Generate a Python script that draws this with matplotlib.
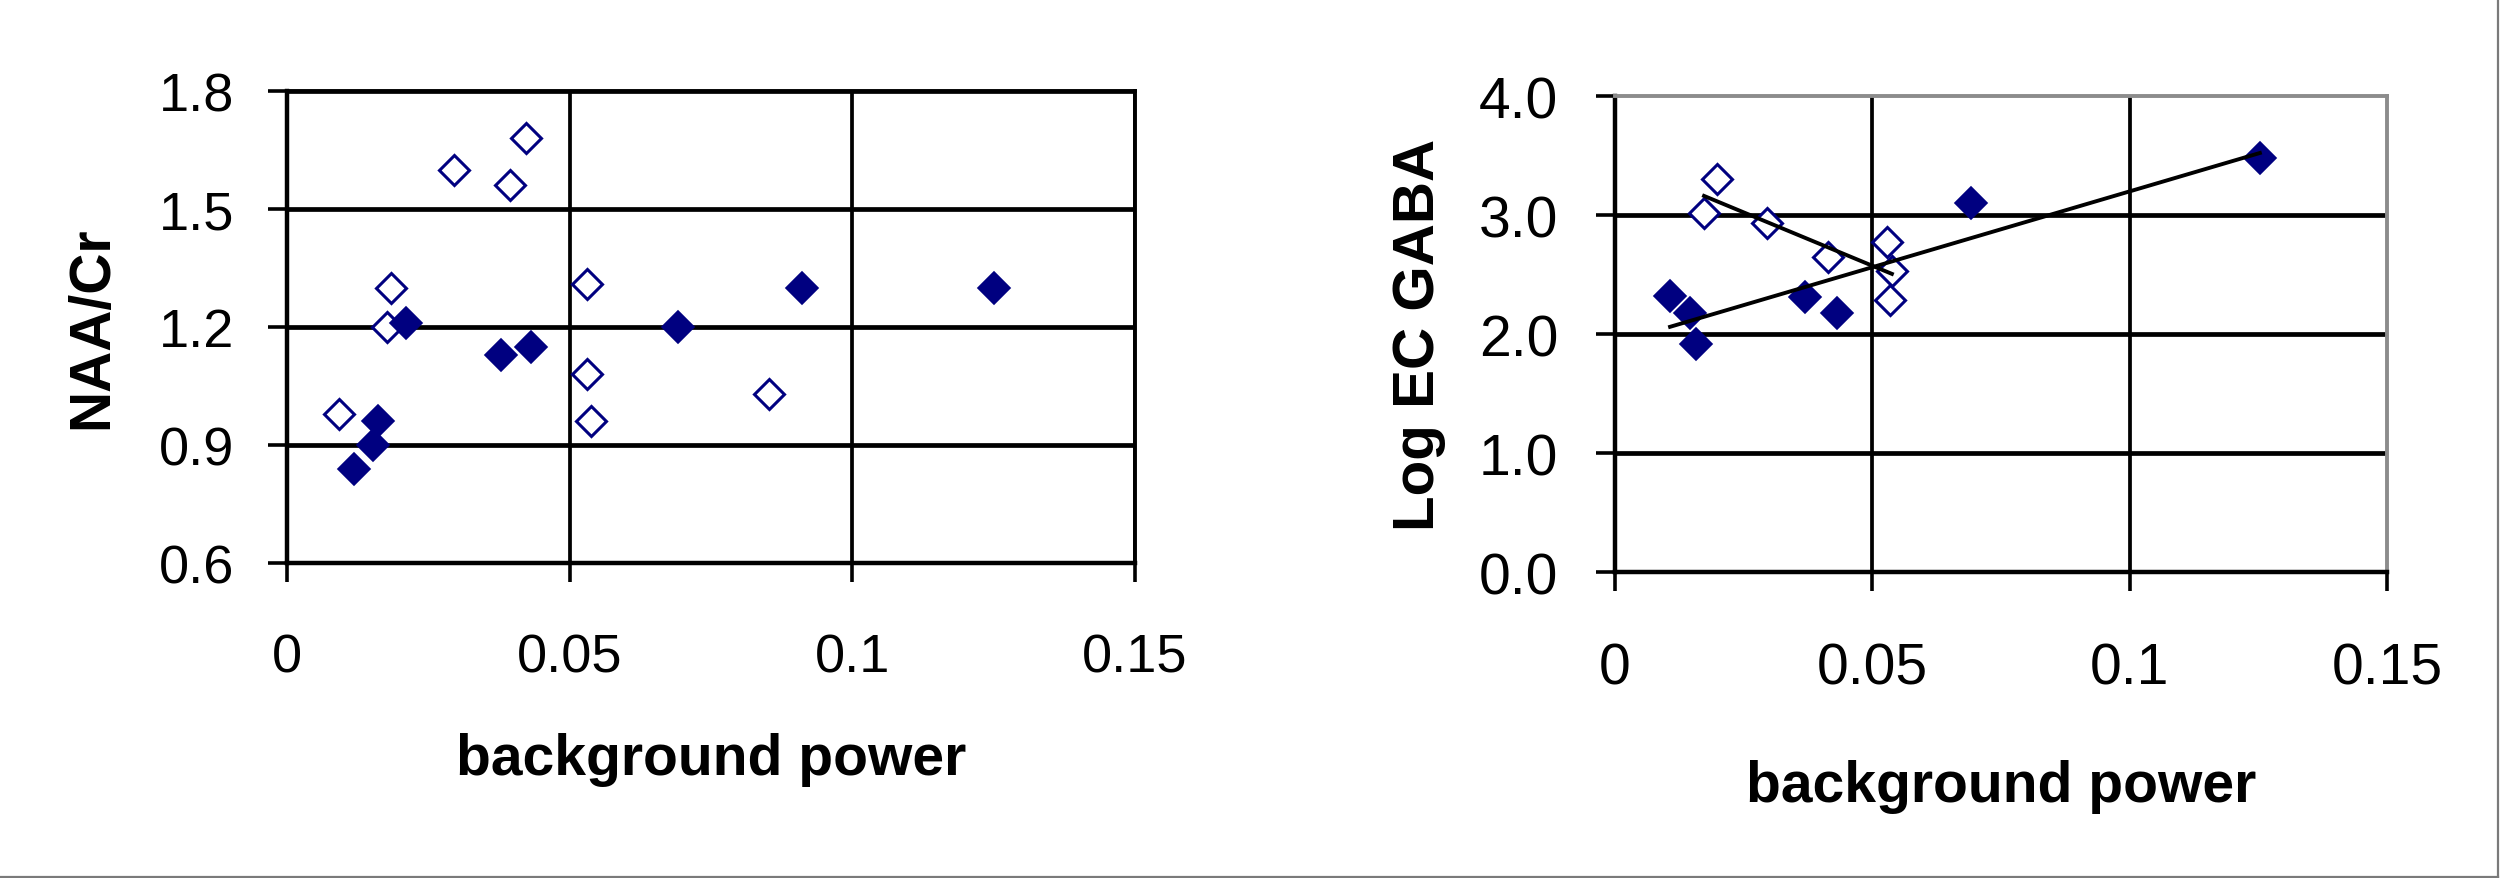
import numpy as np
import matplotlib.pyplot as plt
from matplotlib.lines import Line2D

plt.rcParams['font.family'] = ['Liberation Sans', 'DejaVu Sans']

# left panel: NAA/Cr vs background power
naa_open_x = [0.0092, 0.0184, 0.0177, 0.0295, 0.0394, 0.0422, 0.0530, 0.0530, 0.0538, 0.0852]
naa_open_y = [0.98, 1.30, 1.20, 1.60, 1.56, 1.68, 1.31, 1.08, 0.96, 1.03]
naa_fill_x = [0.0118, 0.0152, 0.0161, 0.0210, 0.0378, 0.0431, 0.0691, 0.0911, 0.1251]
naa_fill_y = [0.84, 0.90, 0.96, 1.21, 1.13, 1.15, 1.20, 1.30, 1.30]

# right panel: Log EC GABA vs background power
gaba_open_x = [0.0198, 0.0173, 0.0295, 0.0413, 0.0528, 0.0538, 0.0534]
gaba_open_y = [3.30, 3.02, 2.93, 2.65, 2.77, 2.53, 2.29]
gaba_fill_x = [0.0107, 0.0146, 0.0157, 0.0369, 0.0431, 0.0691, 0.1253]
gaba_fill_y = [2.32, 2.18, 1.92, 2.31, 2.18, 3.10, 3.48]

x_ticks = [0, 0.05, 0.1, 0.15]
x_labels = ['0', '0.05', '0.1', '0.15']
naa_ticks = [0.6, 0.9, 1.2, 1.5, 1.8]
naa_labels = ['0.6', '0.9', '1.2', '1.5', '1.8']
gaba_ticks = [0.0, 1.0, 2.0, 3.0, 4.0]
gaba_labels = ['0.0', '1.0', '2.0', '3.0', '4.0']

navy = '#000080'

fig = plt.figure(figsize=(25, 8.79), dpi=100)
ax1 = fig.add_axes([0.1148, 0.3584, 0.3392, 0.5369])
ax2 = fig.add_axes([0.646, 0.3481, 0.3088, 0.5415])


def style_axes(ax, yticks, ylabels, grey_edge, tick_size, ypad):
    ax.set_xlim(x_ticks[0], x_ticks[-1])
    ax.set_ylim(yticks[0], yticks[-1])
    ax.set_xticks(x_ticks)
    ax.set_xticklabels(x_labels)
    ax.set_yticks(yticks)
    ax.set_yticklabels(ylabels)
    ax.tick_params(direction='out', length=14, width=2.6, colors='black',
                   labelsize=tick_size)
    ax.tick_params(axis='x', pad=36)
    ax.tick_params(axis='y', pad=ypad)

    # gridlines (Excel style, drawn under the points)
    for v in yticks[1:]:
        if grey_edge and v == yticks[-1]:
            continue
        ax.axhline(v, color='black', lw=3.4, zorder=1)
    for v in x_ticks[1:]:
        if grey_edge and v == x_ticks[-1]:
            continue
        ax.axvline(v, color='black', lw=2.7, zorder=1)

    for side in ['left', 'bottom']:
        ax.spines[side].set_linewidth(3.2)
        ax.spines[side].set_color('black')
    for side in ['top', 'right']:
        ax.spines[side].set_linewidth(2.8)
        ax.spines[side].set_color('#8c8c8c' if grey_edge else 'black')


def draw_points(ax, ox, oy, fx, fy):
    ax.plot(ox, oy, linestyle='none', marker='D', markersize=15.5,
            markerfacecolor='white', markeredgecolor=navy,
            markeredgewidth=2.2, zorder=3)
    ax.plot(fx, fy, linestyle='none', marker='D', markersize=16.5,
            markerfacecolor=navy, markeredgecolor=navy,
            markeredgewidth=1.2, zorder=4)


# left panel
draw_points(ax1, naa_open_x, naa_open_y, naa_fill_x, naa_fill_y)
style_axes(ax1, naa_ticks, naa_labels, False, 39, 24)
ax1.set_xlabel('background power', fontsize=41, fontweight='bold')
ax1.set_ylabel('NAA/Cr', fontsize=41, fontweight='bold')
ax1.xaxis.label.set_va('baseline')
ax1.xaxis.set_label_coords(0.5, -0.447)
ax1.yaxis.label.set_va('center')
ax1.yaxis.set_label_coords(-0.230, 0.5)

# right panel with linear trendlines for each group
draw_points(ax2, gaba_open_x, gaba_open_y, gaba_fill_x, gaba_fill_y)
for xs, ys in [(gaba_open_x, gaba_open_y), (gaba_fill_x, gaba_fill_y)]:
    slope, icpt = np.polyfit(xs, ys, 1)
    xr = np.array([min(xs), max(xs)])
    ax2.plot(xr, slope * xr + icpt, color='black', lw=2.8, zorder=5)
style_axes(ax2, gaba_ticks, gaba_labels, True, 41, 27)
ax2.set_xlabel('background power', fontsize=41, fontweight='bold')
ax2.set_ylabel('Log EC GABA', fontsize=42, fontweight='bold')
ax2.xaxis.label.set_va('baseline')
ax2.xaxis.set_label_coords(0.5, -0.481)
ax2.yaxis.label.set_va('center')
ax2.yaxis.set_label_coords(-0.254, 0.5)

# thin grey frame on the right and bottom of the picture
fig.add_artist(Line2D([0, 0.9993], [0.0012, 0.0012], color='#7a7a7a', lw=1.6,
                      transform=fig.transFigure))
fig.add_artist(Line2D([0.9993, 0.9993], [0.0012, 1], color='#7a7a7a', lw=1.6,
                      transform=fig.transFigure))

fig.savefig('out.png', dpi=100)
